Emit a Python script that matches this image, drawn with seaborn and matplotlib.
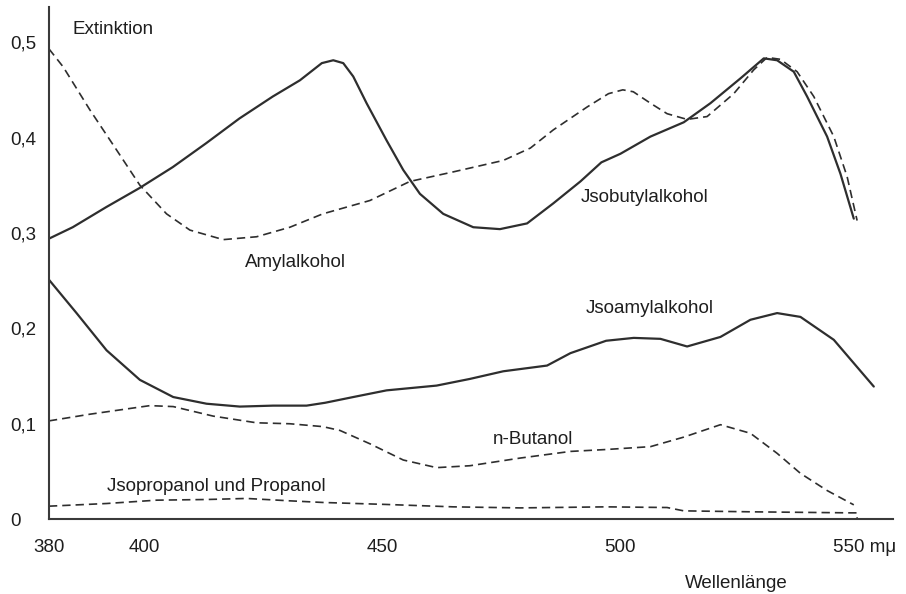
import numpy as np
import pandas as pd
import seaborn as sns
import matplotlib.pyplot as plt

# Extinktion curves (wavelength in m\u03bc)
wl_isobutyl = [380, 385, 392, 399, 406, 413, 420, 427, 432.7, 437.3, 439.7, 441.8, 443.9,
               446.7, 450.9, 454.4, 457.9, 462.8, 469.1, 474.7, 480.4, 485.9, 491.6, 496,
               500, 506.3, 513.3, 518.9, 525.2, 530.1, 532.9, 536.4, 539.2, 543.4, 546.2, 549.0]
ext_isobutyl = [0.294, 0.306, 0.327, 0.347, 0.369, 0.394, 0.420, 0.443, 0.460, 0.478, 0.481,
                0.478, 0.464, 0.436, 0.397, 0.366, 0.341, 0.320, 0.306, 0.304, 0.310, 0.331,
                0.354, 0.374, 0.383, 0.401, 0.416, 0.436, 0.462, 0.483, 0.481, 0.469, 0.443,
                0.401, 0.362, 0.315]

wl_amyl = [380, 383, 388.6, 394.2, 399.1, 404.7, 409.6, 416.6, 423.6, 430.6, 437.5, 447.4,
           455.8, 464.9, 475.4, 481.1, 485.9, 493, 497.5, 500.5, 502.7, 506.3, 509.8, 514,
           518.2, 523.8, 528, 530.8, 533.6, 537.1, 540.6, 544.8, 547.6, 549.7]
ext_amyl = [0.493, 0.474, 0.429, 0.387, 0.350, 0.320, 0.303, 0.293, 0.296, 0.306, 0.320,
            0.334, 0.354, 0.364, 0.376, 0.389, 0.408, 0.432, 0.446, 0.450, 0.448, 0.436,
            0.425, 0.419, 0.422, 0.446, 0.471, 0.484, 0.482, 0.469, 0.443, 0.401, 0.359, 0.313]

wl_isoamyl = [380, 385.8, 392.1, 399.1, 406.1, 413.1, 420.1, 427.1, 434.1, 438, 443.9, 450.9,
              461.4, 468.4, 475.4, 484.6, 489.5, 497, 502.8, 508.4, 514, 521, 527.3, 532.9,
              537.8, 544.8, 553.2]
ext_isoamyl = [0.251, 0.216, 0.177, 0.146, 0.128, 0.121, 0.118, 0.119, 0.119, 0.122, 0.128,
               0.135, 0.140, 0.147, 0.155, 0.161, 0.174, 0.187, 0.190, 0.189, 0.181, 0.191,
               0.209, 0.216, 0.212, 0.188, 0.139]

wl_butanol = [380, 388.6, 395.6, 401.2, 406.1, 414.5, 423.6, 430.6, 437.5, 441.1, 447.4,
              454.4, 461.4, 468.4, 478.9, 489.5, 497, 506.3, 513.3, 521, 527.3, 532.9,
              537.8, 543.4, 549]
ext_butanol = [0.103, 0.110, 0.115, 0.119, 0.118, 0.108, 0.101, 0.100, 0.097, 0.093, 0.079,
               0.062, 0.054, 0.056, 0.064, 0.071, 0.073, 0.076, 0.086, 0.099, 0.090, 0.069,
               0.048, 0.030, 0.015]

wl_propanol = [380, 392.1, 402.6, 413.1, 421.5, 430.6, 437.5, 450.9, 464.9, 478.9, 497,
               509.8, 513.3, 527.3, 548.4, 549.7, 549.7]
ext_propanol = [0.0136, 0.0164, 0.0199, 0.0206, 0.0217, 0.0192, 0.0175, 0.0154, 0.0129,
                0.0118, 0.0129, 0.0122, 0.0087, 0.0077, 0.0066, 0.0066, 0.0]

x_ticks = [380, 400, 450, 500, 550]
x_ticklabels = ['380', '400', '450', '500', '']   # 550 is written with its unit below
y_ticks = [0, 0.1, 0.2, 0.3, 0.4, 0.5]
y_ticklabels = ['0', '0,1', '0,2', '0,3', '0,4', '0,5']

sns.set_style("white")
plt.rcParams['font.family'] = ['Liberation Sans', 'DejaVu Sans']

fig = plt.figure(figsize=(9.06, 5.94), dpi=100)
ax = fig.add_axes([0.054, 0.126, 0.932, 0.862])

ink = '#2e2e2e'
dash = (0, (5, 3))

sns.lineplot(x=wl_isobutyl, y=ext_isobutyl, ax=ax, color=ink, lw=1.6,
             estimator=None, sort=False)
sns.lineplot(x=wl_amyl, y=ext_amyl, ax=ax, color=ink, lw=1.2, linestyle=dash,
             estimator=None, sort=False)
sns.lineplot(x=wl_isoamyl, y=ext_isoamyl, ax=ax, color=ink, lw=1.6,
             estimator=None, sort=False)
sns.lineplot(x=wl_butanol, y=ext_butanol, ax=ax, color=ink, lw=1.2, linestyle=dash,
             estimator=None, sort=False)
sns.lineplot(x=wl_propanol, y=ext_propanol, ax=ax, color=ink, lw=1.2, linestyle=dash,
             estimator=None, sort=False)

ax.set_xlim(380, 557.3)
ax.set_ylim(0, 0.5367)

for s in ['top', 'right']:
    ax.spines[s].set_visible(False)
for s in ['left', 'bottom']:
    ax.spines[s].set_color('#3a3a3a')
    ax.spines[s].set_linewidth(1.5)

ax.set_xticks(x_ticks)
ax.set_xticklabels(x_ticklabels)
ax.set_yticks(y_ticks)
ax.set_yticklabels(y_ticklabels)
ax.tick_params(axis='both', direction='in', length=4, width=1, color='#3a3a3a',
               labelsize=13.5, labelcolor='#1e1e1e')
ax.tick_params(axis='x', pad=14)
ax.tick_params(axis='y', pad=28)
for t in ax.get_yticklabels():
    t.set_ha('left')

txt = dict(fontsize=13.5, color='#1e1e1e', va='center', ha='left')
ax.text(385, 0.513, 'Extinktion', **txt)
ax.text(421.2, 0.269, 'Amylalkohol', **txt)
ax.text(491.6, 0.3375, 'Jsobutylalkohol', **txt)
ax.text(492.8, 0.221, 'Jsoamylalkohol', **txt)
ax.text(473.3, 0.083, 'n-Butanol', **txt)
ax.text(392.1, 0.034, 'Jsopropanol und Propanol', **txt)
# last tick label with unit
ax.text(544.6, -0.0295, '550 m\u03bc', clip_on=False, **txt)
fig.text(0.813, 0.018, 'Wellenlänge', fontsize=13.5, color='#1e1e1e', ha='center', va='center')

fig.savefig('out.png', dpi=100)
